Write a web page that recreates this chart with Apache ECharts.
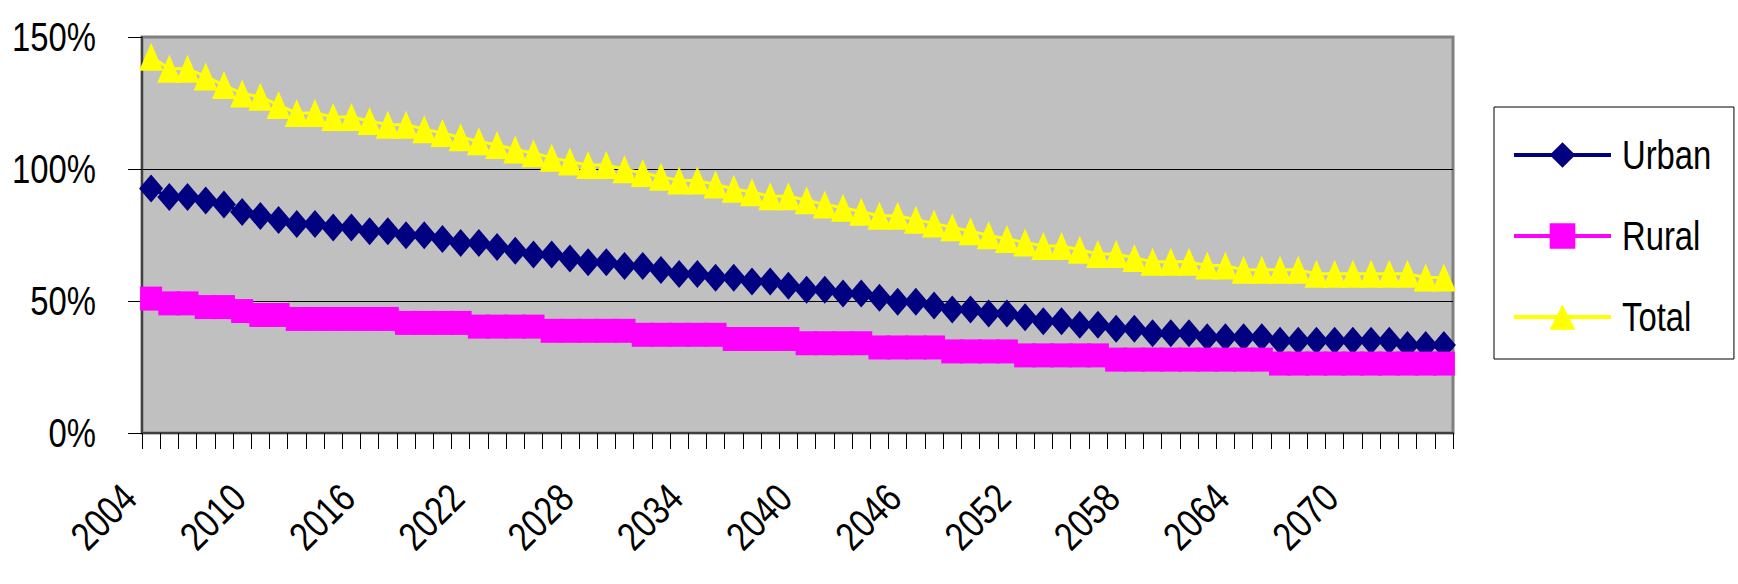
<!DOCTYPE html>
<html>
<head>
<meta charset="utf-8">
<script src="https://cdn.jsdelivr.net/npm/echarts@6/dist/echarts.min.js"></script>
<style>
  html, body { margin: 0; padding: 0; background: #ffffff; }
  #chart { width: 1738px; height: 584px; }
</style>
</head>
<body>
<div id="chart"></div>
<script>
// Projection years, one category per year
const years = [
  '2004','2005','2006','2007','2008','2009','2010','2011','2012','2013','2014','2015',
  '2016','2017','2018','2019','2020','2021','2022','2023','2024','2025','2026','2027',
  '2028','2029','2030','2031','2032','2033','2034','2035','2036','2037','2038','2039',
  '2040','2041','2042','2043','2044','2045','2046','2047','2048','2049','2050','2051',
  '2052','2053','2054','2055','2056','2057','2058','2059','2060','2061','2062','2063',
  '2064','2065','2066','2067','2068','2069','2070','2071','2072','2073','2074','2075'
];

// Ratios in percent
const urban = [
  92.6, 89.4, 89.4, 88.1, 86.6, 83.7, 82.2, 80.7, 79.2, 79.2, 77.8, 77.8,
  76.4, 76.4, 74.9, 74.9, 73.5, 72.0, 72.0, 70.5, 69.0, 67.6, 67.6, 66.1,
  64.7, 64.7, 63.3, 63.3, 61.7, 60.2, 60.2, 58.8, 58.8, 57.4, 57.4, 55.8,
  54.3, 54.3, 52.8, 52.8, 51.2, 49.7, 49.7, 48.3, 46.8, 46.8, 45.3, 45.3,
  43.8, 42.3, 42.3, 41.0, 41.0, 39.5, 39.5, 37.8, 37.8, 37.8, 36.3, 36.3,
  36.3, 36.3, 34.9, 34.9, 34.9, 34.9, 34.9, 34.9, 34.9, 33.3, 33.3, 33.3
];

const rural = [
  50.9, 49.1, 49.1, 47.7, 47.7, 46.2, 44.7, 44.7, 43.2, 43.2, 43.2, 43.2,
  43.2, 43.2, 41.7, 41.7, 41.7, 41.7, 40.3, 40.3, 40.3, 40.3, 38.7, 38.7,
  38.7, 38.7, 38.7, 37.2, 37.2, 37.2, 37.2, 37.2, 35.6, 35.6, 35.6, 35.6,
  34.0, 34.0, 34.0, 34.0, 32.4, 32.4, 32.4, 32.4, 30.9, 30.9, 30.9, 30.9,
  29.4, 29.4, 29.4, 29.4, 29.4, 27.8, 27.8, 27.8, 27.8, 27.8, 27.8, 27.8,
  27.8, 27.8, 26.3, 26.3, 26.3, 26.3, 26.3, 26.3, 26.3, 26.3, 26.3, 26.3
];

const total = [
  142.5, 138.0, 138.0, 135.0, 131.8, 128.6, 127.4, 124.2, 121.2, 121.2, 119.7, 119.7,
  118.2, 116.8, 116.8, 115.1, 113.6, 112.0, 110.5, 109.1, 107.4, 106.0, 104.3, 102.8,
  101.5, 101.5, 99.9, 98.5, 97.1, 95.6, 95.6, 94.1, 92.5, 91.2, 89.7, 89.7,
  88.2, 86.6, 85.3, 83.8, 82.3, 82.3, 80.8, 79.4, 77.9, 76.4, 74.9, 73.5,
  72.2, 70.8, 70.8, 69.4, 67.8, 67.8, 66.3, 64.9, 64.9, 64.9, 63.4, 63.4,
  61.8, 61.8, 61.8, 61.8, 60.3, 60.3, 60.3, 60.3, 60.3, 60.3, 58.9, 58.9
];

const seriesNames = ['Urban', 'Rural', 'Total'];
const yMin = 0, yMax = 150, yStep = 50;

const FONT = "'Liberation Sans', Arial, sans-serif";
// Horizontal squeeze applied to every text run to get a narrow face
const NARROW = 0.82;

function lineSeries(name, data, color, symbol, size) {
  return {
    name: name,
    type: 'line',
    data: data,
    symbol: symbol,
    symbolSize: size,
    showSymbol: true,
    showAllSymbol: true,
    lineStyle: { color: color, width: 3 },
    itemStyle: { color: color, borderWidth: 0 },
    emphasis: { disabled: true },
    animation: false
  };
}

const chart = echarts.init(document.getElementById('chart'), null, { renderer: 'svg' });

chart.setOption({
  animation: false,
  grid: {
    left: 142, top: 37, width: 1311, height: 396,
    outerBoundsMode: 'none',
    containLabel: false,
    show: true,
    backgroundColor: '#C0C0C0',
    borderColor: '#808080',
    borderWidth: 3
  },
  xAxis: {
    type: 'category',
    data: years,
    boundaryGap: true,
    axisLine: { lineStyle: { color: '#404040', width: 2 } },
    axisTick: { show: true, interval: 0, length: 16, lineStyle: { color: '#000000', width: 1 } },
    axisLabel: {
      interval: 5, rotate: 45, margin: 36, padding: [0, 31, 0, 0],
      fontSize: 40, fontFamily: FONT, color: '#000000'
    },
    splitLine: { show: false }
  },
  yAxis: {
    type: 'value',
    min: yMin, max: yMax, interval: yStep,
    axisLine: { show: true, lineStyle: { color: '#404040', width: 2 } },
    axisTick: { show: true, length: 14, lineStyle: { color: '#000000', width: 1 } },
    axisLabel: {
      formatter: '{value}%', margin: 46, padding: [0, 0, 12, 0],
      fontSize: 40, fontFamily: FONT, color: '#000000'
    },
    splitLine: {
      show: true, showMinLine: false, showMaxLine: false,
      lineStyle: { color: '#000000', width: 1 }
    }
  },
  legend: {
    data: seriesNames,
    orient: 'vertical',
    left: 1494, top: 107,
    padding: [28, 3, 22, 18],
    itemGap: 41,
    itemWidth: 97,
    itemHeight: 32,
    lineStyle: { width: 4 },
    backgroundColor: '#ffffff',
    borderColor: '#000000',
    borderWidth: 1,
    textStyle: {
      fontSize: 40, lineHeight: 40, fontFamily: FONT, color: '#000000',
      padding: [0, 0, 0, 6]
    }
  },
  series: [
    lineSeries('Urban', urban, '#000080', 'diamond', [24, 28]),
    lineSeries('Rural', rural, '#FF00FF', 'rect', [22, 24]),
    lineSeries('Total', total, '#FFFF00', 'triangle', [24, 28])
  ]
});

// Squeeze the glyphs of each text run, keeping its anchor end in place
function narrowTexts() {
  document.querySelectorAll('#chart svg text').forEach(function (t) {
    if (t.getAttribute('data-narrow')) return;
    const w = t.getComputedTextLength();
    if (w > 0) {
      t.setAttribute('textLength', (w * NARROW).toFixed(2));
      t.setAttribute('lengthAdjust', 'spacingAndGlyphs');
      t.setAttribute('data-narrow', '1');
    }
  });
}
narrowTexts();
chart.on('finished', narrowTexts);
</script>
</body>
</html>
